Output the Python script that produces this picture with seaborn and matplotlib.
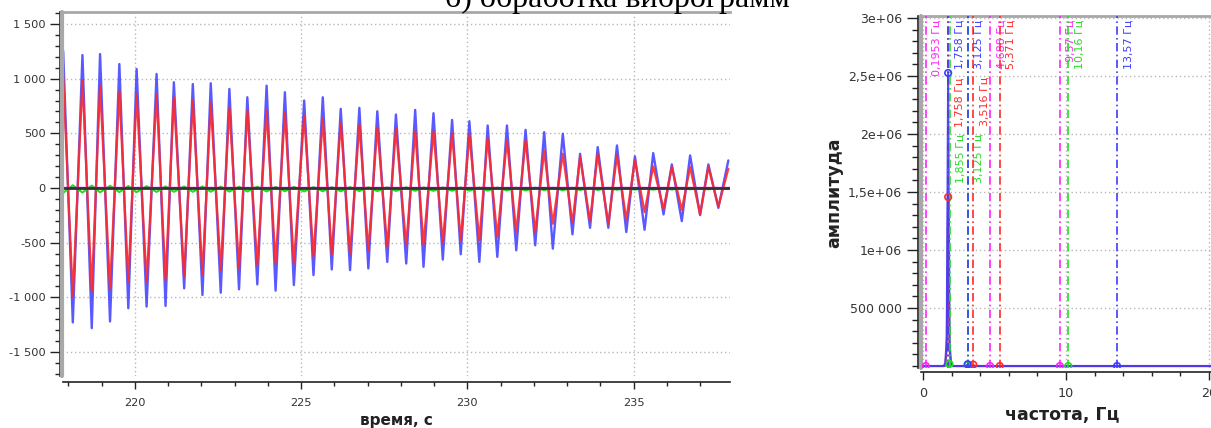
import numpy as np
import pandas as pd
import matplotlib
matplotlib.use("Agg")
import matplotlib.pyplot as plt
import seaborn as sns
from matplotlib.ticker import MultipleLocator

sns.set_theme(style="white")
plt.rcParams["font.family"] = ["DejaVu Sans"]

# ---------------- left panel: vibrogram (extrema) ----------------
peak_t = [217.84, 218.42, 218.95, 219.53, 220.05, 220.65, 221.17, 221.74, 222.28, 222.84,
          223.38, 223.96, 224.51, 225.09, 225.65, 226.19, 226.75, 227.29, 227.85, 228.43,
          228.98, 229.54, 230.06, 230.61, 231.19, 231.75, 232.31, 232.87, 233.39, 233.92,
          234.50, 235.04, 235.59, 236.15, 236.70, 237.25, 237.85]
trough_t = [218.13, 218.70, 219.25, 219.80, 220.35, 220.92, 221.48, 222.03, 222.58, 223.13,
            223.68, 224.23, 224.78, 225.37, 225.92, 226.47, 227.02, 227.59, 228.16, 228.68,
            229.26, 229.80, 230.36, 230.90, 231.47, 232.04, 232.57, 233.16, 233.69, 234.24,
            234.78, 235.33, 235.90, 236.45, 237.00, 237.55]
blue_peaks = [1255, 1216, 1225, 1134, 1088, 1043, 967, 951, 958, 906, 830, 936, 876,
              800, 830, 724, 733, 702, 672, 714, 684, 623, 611, 572, 572, 532, 511, 496,
              313, 374, 389, 289, 319, 216, 298, 216, 252]
blue_troughs = [-1230, -1282, -1221, -1100, -1085, -1079, -918, -979, -958, -927, -882, -939, -888,
                -797, -745, -751, -736, -676, -691, -721, -655, -606, -676, -630, -570, -524,
                -555, -424, -364, -364, -403, -382, -242, -303, -248, -182]
red_peaks = [1027, 982, 936, 885, 860, 854, 830, 800, 775, 733, 708, 708, 693,
             663, 632, 602, 581, 556, 541, 520, 520, 502, 489, 459, 435, 435, 343, 313,
             283, 313, 298, 258, 198, 192, 192, 192, 176]
red_troughs = [-994, -948, -918, -858, -858, -842, -812, -788, -751, -736, -706, -691, -691,
               -624, -606, -600, -576, -539, -524, -518, -503, -479, -479, -448, -403, -403,
               -327, -321, -303, -327, -291, -221, -191, -200, -242, -170]
green_at_peaks = [-45, -42, -40, -38, -38, -36, -35, -35, -34, -33, -32, -32, -30, -32, -30,
                  -30, -28, -28, -27, -26, -26, -25, -24, -24, -22, -22, -20, -20, -18, -18,
                  -16, -15, -15, -14, -12, -12, -10]
green_at_troughs = [25, 22, 20, 18, 17, 15, 14, 14, 13, 12, 12, 10, 10, 8, 8, 8, 7, 6, 6, 5,
                    5, 5, 4, 4, 3, 3, 2, 2, 2, 1, 1, 0, 0, 0, -1, -1]
magenta_t = [217.8, 237.9]
magenta_v = [8, 8]

time_ticks = [220, 225, 230, 235]
amp_ticks = [-1500, -1000, -500, 0, 500, 1000, 1500]
amp_tick_labels = ["-1 500", "-1 000", "-500", "0", "500", "1 000", "1 500"]

# ---------------- right panel: spectrum ----------------
spec_f = [0.0, 1.465, 1.563, 1.660, 1.758, 1.855, 1.953, 2.051, 3.027, 3.125, 3.223,
          3.418, 3.516, 3.613, 25.0]
spec_blue = [0, 0, 30000, 250000, 2526000, 220000, 30000, 0, 0, 15000, 0, 0, 0, 0, 0]
spec_red = [0, 0, 20000, 150000, 1457000, 140000, 20000, 0, 0, 0, 0, 0, 12000, 0, 0]
spec_green = [0, 0, 0, 5000, 12000, 18000, 5000, 0, 0, 10000, 0, 0, 0, 0, 0]
spec_magenta = [0] * len(spec_f)

peak_blue_f = [1.758, 3.125, 13.57]
peak_blue_a = [2526000, 15000, 0]
peak_red_f = [1.758, 3.516, 5.371]
peak_red_a = [1457000, 12000, 0]
peak_green_f = [1.855, 3.125, 10.16]
peak_green_a = [18000, 10000, 0]
peak_mag_f = [0.1953, 4.688, 9.57]
peak_mag_a = [0, 0, 0]
peak_labels = {
    "blue": ["1,758 Гц", "3,125 Гц", "13,57 Гц"],
    "red": ["1,758 Гц", "3,516 Гц", "5,371 Гц"],
    "green": ["1,855 Гц", "3,125 Гц", "10,16 Гц"],
    "magenta": ["0,1953 Гц", "4,688 Гц", "9,57 Гц"],
}
# top of each label (data units), layout only
label_top = {
    "blue": [2.985e6, 2.985e6, 2.985e6],
    "red": [2.49e6, 2.49e6, 2.985e6],
    "green": [2.0e6, 2.0e6, 2.985e6],
    "magenta": [2.985e6, 2.985e6, 2.985e6],
}
freq_ticks = [0, 10, 20]
spec_ticks = [500000, 1000000, 1500000, 2000000, 2500000, 3000000]
spec_tick_labels = ["500 000", "1e+06", "1,5e+06", "2e+06", "2,5e+06", "3e+06"]

C_BLUE = "#3c3cff"
C_RED = "#ff2a2a"
C_GREEN = "#22dd22"
C_MAG = "#ff22ff"
GRID = "#b8b8b8"
FRAME = "#a8a8a8"

W, H = 1211, 428
fig = plt.figure(figsize=(W / 100, H / 100), dpi=100)
fig.patch.set_facecolor("white")


def px_axes(l, t, r, b):
    return fig.add_axes([l / W, 1 - b / H, (r - l) / W, (b - t) / H])


def series(t1, v1, t2, v2):
    return pd.DataFrame({"t": list(t1) + list(t2), "v": list(v1) + list(v2)}).sort_values("t")


def style_frame(ax, left_off, bottom_off):
    ax.spines["right"].set_visible(False)
    ax.spines["top"].set_visible(True)
    ax.spines["top"].set_color(FRAME)
    ax.spines["top"].set_linewidth(2)
    ax.spines["left"].set_position(("outward", left_off))
    ax.spines["bottom"].set_position(("outward", bottom_off))
    for s in ["left", "bottom"]:
        ax.spines[s].set_color("#222222")
        ax.spines[s].set_linewidth(1.2)
    ax.plot([0, 0], [0, 1], transform=ax.transAxes, color=FRAME, lw=3, clip_on=False, zorder=5)
    ax.set_facecolor("white")


# ---------- left axes ----------
ax1 = px_axes(62.5, 12, 730, 376)
style_frame(ax1, 2, 4.5)
ax1.set_xlim(217.82, 237.9)
ax1.set_ylim(-1720, 1610)

sns.lineplot(data=series(peak_t, blue_peaks, trough_t, blue_troughs), x="t", y="v", ax=ax1,
             color=C_BLUE, lw=1.7, alpha=0.85, estimator=None)
sns.lineplot(data=series(peak_t, red_peaks, trough_t, red_troughs), x="t", y="v", ax=ax1,
             color=C_RED, lw=1.6, alpha=0.9, estimator=None)
sns.lineplot(data=series(peak_t, green_at_peaks, trough_t, green_at_troughs), x="t", y="v",
             ax=ax1, color=C_GREEN, lw=1.5, estimator=None)
ax1.axhline(0, color="#333333", lw=2, zorder=4)
sns.lineplot(x=magenta_t, y=magenta_v, ax=ax1, color=C_MAG, lw=1, estimator=None)

ax1.set_xticks(time_ticks)
ax1.xaxis.set_minor_locator(MultipleLocator(1))
ax1.set_yticks(amp_ticks)
ax1.set_yticklabels(amp_tick_labels)
ax1.yaxis.set_minor_locator(MultipleLocator(100))
ax1.grid(True, which="major", color=GRID, ls=(0, (1, 2)), lw=1)
ax1.tick_params(axis="y", which="major", length=7, width=1, color="#222222", labelsize=8.2,
                pad=3, left=True, labelcolor="#333333")
ax1.tick_params(axis="y", which="minor", length=3.5, width=1, color="#222222", left=True)
ax1.tick_params(axis="x", which="major", length=5, width=1, color="#222222", labelsize=8.2,
                pad=6, bottom=True, labelcolor="#333333")
ax1.tick_params(axis="x", which="minor", length=3, width=1, color="#222222", bottom=True)
ax1.set_xlabel("")
ax1.set_ylabel("")

# ---------- right axes ----------
ax2 = px_axes(921, 16, 921 + 25.14 * 14.3, 368)
style_frame(ax2, 2.5, 3)
ax2.set_xlim(-0.14, 25)
ax2.set_ylim(-17000, 3.017e6)

for vals, c in [(spec_magenta, C_MAG), (spec_green, C_GREEN), (spec_red, C_RED), (spec_blue, C_BLUE)]:
    sns.lineplot(x=spec_f, y=vals, ax=ax2, color=c, lw=1.5, alpha=0.9, estimator=None)

groups = [("magenta", C_MAG, peak_mag_f, peak_mag_a),
          ("green", C_GREEN, peak_green_f, peak_green_a),
          ("red", C_RED, peak_red_f, peak_red_a),
          ("blue", C_BLUE, peak_blue_f, peak_blue_a)]
for name, c, fs, amps in groups:
    for f, lab, top in zip(fs, peak_labels[name], label_top[name]):
        ax2.axvline(f, color=c, lw=1.2, ls=(0, (5, 2, 1, 2)), zorder=3)
        ax2.annotate(lab, xy=(f, top), xytext=(8, 0), textcoords="offset points",
                     rotation=90, ha="center", va="top", color=c, fontsize=8)
    sns.scatterplot(x=fs, y=amps, ax=ax2, marker="o", s=22, facecolors="none",
                    edgecolors=c, linewidths=1.2, zorder=6)

ax2.set_xticks(freq_ticks)
ax2.xaxis.set_minor_locator(MultipleLocator(2))
ax2.set_yticks(spec_ticks)
ax2.set_yticklabels(spec_tick_labels)
ax2.yaxis.set_minor_locator(MultipleLocator(100000))
ax2.grid(True, which="major", color=GRID, ls=(0, (1, 2)), lw=1)
ax2.tick_params(axis="y", which="major", length=8, width=1, color="#222222", labelsize=9.0,
                pad=3, left=True, labelcolor="#333333")
ax2.tick_params(axis="y", which="minor", length=4, width=1, color="#222222", left=True)
ax2.tick_params(axis="x", which="major", length=6, width=1, color="#222222", labelsize=9.2,
                pad=5, bottom=True, labelcolor="#333333")
ax2.tick_params(axis="x", which="minor", length=3, width=1, color="#222222", bottom=True)
ax2.set_xlabel("")
ax2.set_ylabel("")

# ---------- texts ----------
fig.text(396 / W, 1 - 420 / H, "время, с", ha="center", va="center", fontsize=11,
         fontweight="bold", color="#222222")
fig.text(1062 / W, 1 - 415 / H, "частота, Гц", ha="center", va="center", fontsize=12.5,
         fontweight="bold", color="#222222")
fig.text(834 / W, 1 - 193 / H, "амплитуда", ha="center", va="center", rotation=90,
         fontsize=12.5, fontweight="bold", color="#222222")
fig.text(445 / W, 1 - 7 / H, "б) обработка виброграмм", ha="left", va="baseline",
         fontsize=23, family=["Liberation Serif", "DejaVu Serif"], color="black")

fig.savefig("out.png", dpi=100)
